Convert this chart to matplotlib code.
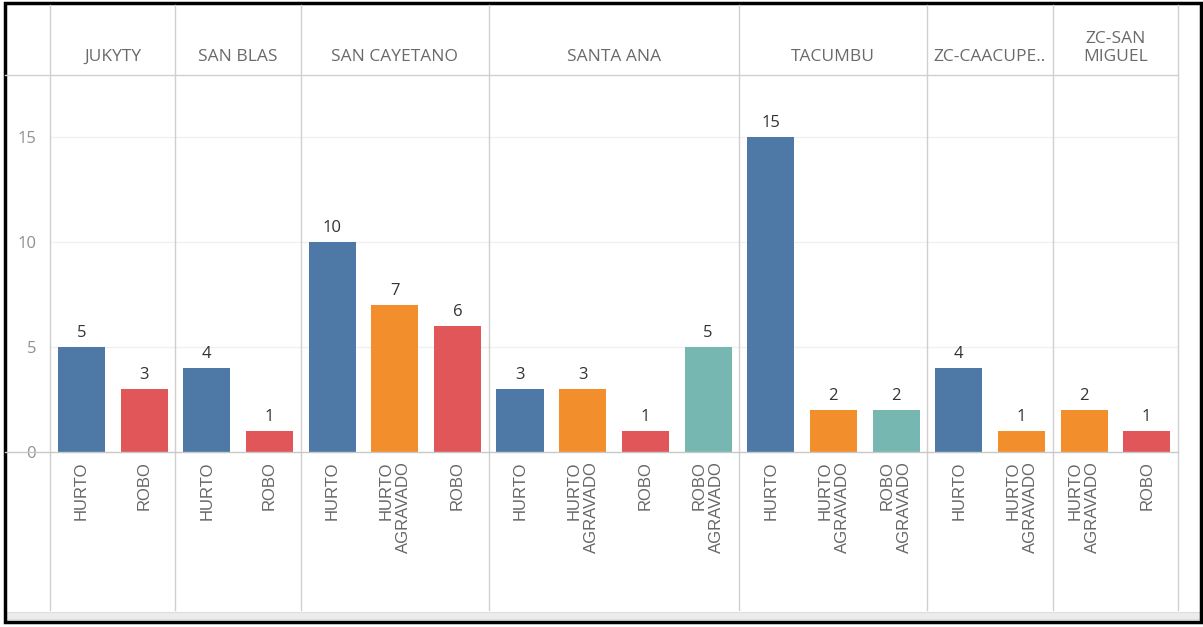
import matplotlib

matplotlib.use("Agg")
import matplotlib.pyplot as plt
from matplotlib import transforms
from matplotlib.lines import Line2D
from matplotlib.patches import Rectangle

W, H = 1203, 627

# Data
zones = ["JUKYTY", "SAN BLAS", "SAN CAYETANO", "SANTA ANA", "TACUMBU",
         "ZC-CAACUPE..", "ZC-SAN\nMIGUEL"]
zone_types = [
    ["HURTO", "ROBO"],
    ["HURTO", "ROBO"],
    ["HURTO", "HURTO AGRAVADO", "ROBO"],
    ["HURTO", "HURTO AGRAVADO", "ROBO", "ROBO AGRAVADO"],
    ["HURTO", "HURTO AGRAVADO", "ROBO AGRAVADO"],
    ["HURTO", "HURTO AGRAVADO"],
    ["HURTO AGRAVADO", "ROBO"],
]
zone_counts = [
    [5, 3],
    [4, 1],
    [10, 7, 6],
    [3, 3, 1, 5],
    [15, 2, 2],
    [4, 1],
    [2, 1],
]
type_colors = {
    "HURTO": "#4e79a7",
    "HURTO AGRAVADO": "#f28e2b",
    "ROBO": "#e15759",
    "ROBO AGRAVADO": "#76b7b2",
}
yticks = [0, 5, 10, 15]

plt.rcParams["font.family"] = ["Open Sans", "DejaVu Sans"]

fig = plt.figure(figsize=(W / 100, H / 100), dpi=100)


def fy(y):
    return 1 - y / H


def fx(x):
    return x / W


ax = fig.add_axes([fx(50), fy(452), (1178 - 50) / W, (452 - 75) / H])

n_bars = sum(len(t) for t in zone_types)
ax.set_xlim(-0.5, n_bars - 0.5)
ax.set_ylim(0, 17.95)
for s in ax.spines.values():
    s.set_visible(False)
ax.set_xticks([])
ax.set_yticks(yticks)
ax.set_yticklabels([str(v) for v in yticks], color="#909090", fontsize=12)
ax.tick_params(axis="y", length=0, pad=10)
for v in yticks[1:]:
    ax.axhline(v, color="#f0f0f0", lw=1, zorder=0)

blend = transforms.blended_transform_factory(ax.transData, fig.transFigure)

pos = 0
bounds = [-0.5]
for zone, types, counts in zip(zones, zone_types, zone_counts):
    start = pos
    for t, c in zip(types, counts):
        ax.bar(pos, c, width=0.75, color=type_colors[t], zorder=2)
        ax.annotate(str(c), (pos, c), xytext=(0, 4), textcoords="offset points",
                    ha="center", va="bottom", fontsize=12, color="#333333")
        fig.text(pos, fy(461), t.replace(" ", "\n"), transform=blend,
                 rotation=90, ha="center", va="top", multialignment="right",
                 family="Liberation Sans", fontsize=12, color="#666666")
        pos += 1
    center = (start + pos - 1) / 2
    fig.text(center, fy(65), zone, transform=blend, ha="center", va="bottom",
             multialignment="center", fontsize=12.5, color="#6a6a6a")
    bounds.append(pos - 0.5)

# panel dividers
for b in bounds:
    fig.add_artist(Line2D([b, b], [fy(5), fy(610)], transform=blend,
                          color="#d0d0d0", lw=1))

# header line and zero baseline
fig.add_artist(Line2D([fx(5), fx(1178)], [fy(75), fy(75)], color="#d0d0d0", lw=1))
fig.add_artist(Line2D([fx(5), fx(1178)], [fy(452), fy(452)], color="#c8c8c8", lw=1))

# bottom scrollbar strip
fig.add_artist(Rectangle((fx(5), fy(619)), fx(1196), (619 - 612) / H,
                         transform=fig.transFigure, facecolor="#ececec",
                         edgecolor="#dddddd", lw=0.8))

# outer black frame
fig.add_artist(Rectangle((fx(5), fy(622)), fx(1196), (622 - 3) / H,
                         transform=fig.transFigure, fill=False,
                         edgecolor="black", lw=2.5))

fig.savefig("out.png", dpi=100)
